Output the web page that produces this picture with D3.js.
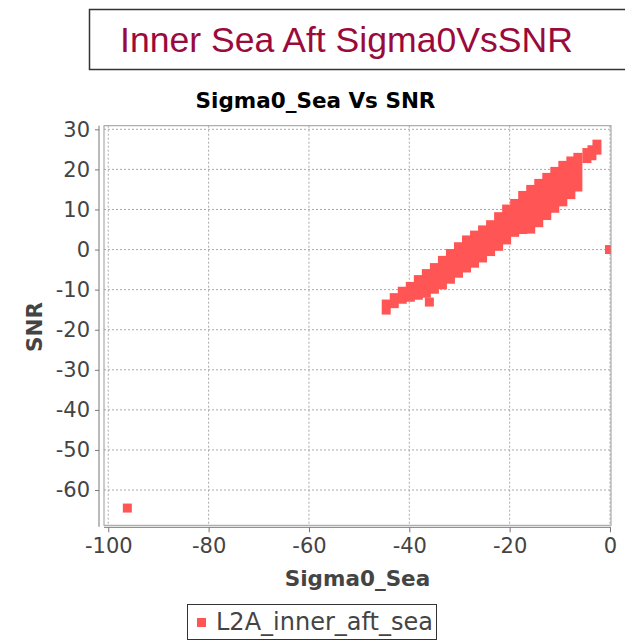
<!DOCTYPE html>
<html><head><meta charset="utf-8">
<script src="https://cdn.jsdelivr.net/npm/d3@7/dist/d3.min.js"></script>
<style>html,body{margin:0;padding:0;background:#fff;}svg{display:block;}</style>
</head><body>
<svg id="c" width="625" height="641"></svg>
<script>
// Data
const pageTitle = "Inner Sea Aft Sigma0VsSNR";
const chartTitle = "Sigma0_Sea Vs SNR";
const xLabel = "Sigma0_Sea";
const yLabel = "SNR";
const seriesName = "L2A_inner_aft_sea";
const xTicks = [-100, -80, -60, -40, -20, 0];
const yTicks = [30, 20, 10, 0, -10, -20, -30, -40, -50, -60];
// dense point cloud: per Sigma0 bin, lowest and highest SNR point
const sigmaBins = [-44.6,-43.0,-41.4,-39.8,-38.2,-36.6,-35.0,-33.4,-31.8,-30.2,-28.6,-27.0,-25.4,-23.8,-22.2,-20.6,-19.0,-17.4,-15.8,-14.2,-12.6,-11.0,-9.4,-7.8,-6.4,-4.6,-3.6,-2.6];
const snrLow  = [-15.1,-13.5,-12.4,-11.9,-11.4,-10.9,-9.9,-8.8,-7.4,-5.9,-4.6,-3.4,-2.1,-0.5,0.8,2.4,4.3,5.0,5.1,6.7,8.5,10.3,11.9,13.7,15.6,22.7,23.4,24.8];
const snrHigh = [-13.6,-12.0,-10.4,-9.2,-7.5,-6.0,-4.5,-2.7,-1.0,0.7,2.4,3.6,4.9,6.2,8.2,10.1,11.5,13.5,15.0,16.5,18.0,19.5,21.0,22.1,23.0,24.2,24.9,26.3];
// isolated points
const isoSigma = [-96.2, -0.1, -36.0];
const isoSnr   = [-64.5, 0.0, -13.1];

const svg = d3.select("#c");
const L = 104, R = 611, T = 125.7, B = 525.3;
const x = d3.scaleLinear().domain([-100.85, 0.2]).range([L, R]);
const y = d3.scaleLinear().domain([-68.8, 30.9]).range([B, T]);
const col = "#ff5555";
const ms = 9;

// page title box
svg.append("rect").attr("x", 89.5).attr("y", 9.5).attr("width", 600).attr("height", 60)
  .attr("fill", "#fff").attr("stroke", "#333").attr("stroke-width", 1.5);
svg.append("text").attr("x", 120).attr("y", 52).attr("fill", "#9b0a3c")
  .style("font-family", "Liberation Sans, Arial, sans-serif").style("font-size", "35.6px").text(pageTitle);

// chart title
svg.append("text").attr("x", 315.5).attr("y", 108).attr("text-anchor", "middle").attr("fill", "#000")
  .style("font-family", "DejaVu Sans").style("font-weight", "bold").style("font-size", "21.5px").text(chartTitle);

// grid
const g = svg.append("g");
g.selectAll(".gx").data(xTicks).join("line").attr("x1", d => x(d)).attr("x2", d => x(d))
  .attr("y1", T).attr("y2", B).attr("stroke", "#aaa").attr("stroke-dasharray", "2,2");
g.selectAll(".gy").data(yTicks).join("line").attr("y1", d => y(d)).attr("y2", d => y(d))
  .attr("x1", L).attr("x2", R).attr("stroke", "#aaa").attr("stroke-dasharray", "2,2");

// clip
svg.append("clipPath").attr("id", "pc").append("rect").attr("x", L).attr("y", T).attr("width", R - L).attr("height", B - T);
const pts = svg.append("g").attr("clip-path", "url(#pc)");
const bins = sigmaBins.map((s, i) => ({s, lo: snrLow[i], hi: snrHigh[i]}));
pts.selectAll("rect.b").data(bins).join("rect").attr("class", "b")
  .attr("x", d => x(d.s) - ms / 2).attr("width", ms)
  .attr("y", d => y(d.hi) - ms / 2).attr("height", d => y(d.lo) - y(d.hi) + ms)
  .attr("fill", col);
const iso = isoSigma.map((s, i) => ({s, v: isoSnr[i]}));
pts.selectAll("rect.p").data(iso).join("rect").attr("class", "p")
  .attr("x", d => x(d.s) - ms / 2).attr("y", d => y(d.v) - ms / 2)
  .attr("width", ms).attr("height", ms).attr("fill", col);

// plot outline
svg.append("rect").attr("x", L).attr("y", T).attr("width", R - L).attr("height", B - T)
  .attr("fill", "none").attr("stroke", "#999").attr("stroke-width", 1);

// axes
const ax = svg.append("g").attr("transform", `translate(0,${B + 2})`)
  .call(d3.axisBottom(x).tickValues(xTicks).tickSize(5).tickPadding(6).tickFormat(d3.format("d")).tickSizeOuter(0));
const ay = svg.append("g").attr("transform", `translate(${L - 5},0)`)
  .call(d3.axisLeft(y).tickValues(yTicks).tickSize(4).tickPadding(5).tickFormat(d3.format("d")).tickSizeOuter(0));
[ax, ay].forEach(a => {
  a.select(".domain").attr("stroke", "#777");
  a.selectAll(".tick line").attr("stroke", "#777");
  a.selectAll("text").attr("fill", "#444").style("font-family", "DejaVu Sans").style("font-size", "21px");
});
ax.select(".domain").attr("d", `M${L},0H${R}`);
ay.select(".domain").attr("d", `M0,${T}V${B + 1.5}`);
ax.selectAll(".tick text").text(d => d3.format("d")(d).replace("−", "-"));
ay.selectAll(".tick text").text(d => d3.format("d")(d).replace("−", "-"));

// axis labels
svg.append("text").attr("x", 357.5).attr("y", 586).attr("text-anchor", "middle").attr("fill", "#444")
  .style("font-family", "DejaVu Sans").style("font-weight", "bold").style("font-size", "21.5px").text(xLabel);
svg.append("text").attr("transform", "translate(42,327) rotate(-90)").attr("text-anchor", "middle").attr("fill", "#444")
  .style("font-family", "DejaVu Sans").style("font-weight", "bold").style("font-size", "21.5px").text(yLabel);

// legend
svg.append("rect").attr("x", 187.5).attr("y", 604.5).attr("width", 249).attr("height", 35)
  .attr("fill", "#fff").attr("stroke", "#333").attr("stroke-width", 1);
svg.append("rect").attr("x", 197).attr("y", 618).attr("width", 9).attr("height", 9).attr("fill", col);
svg.append("text").attr("x", 216).attr("y", 630).attr("fill", "#444")
  .style("font-family", "DejaVu Sans").style("font-size", "24px").text(seriesName);
</script>
</body></html>
